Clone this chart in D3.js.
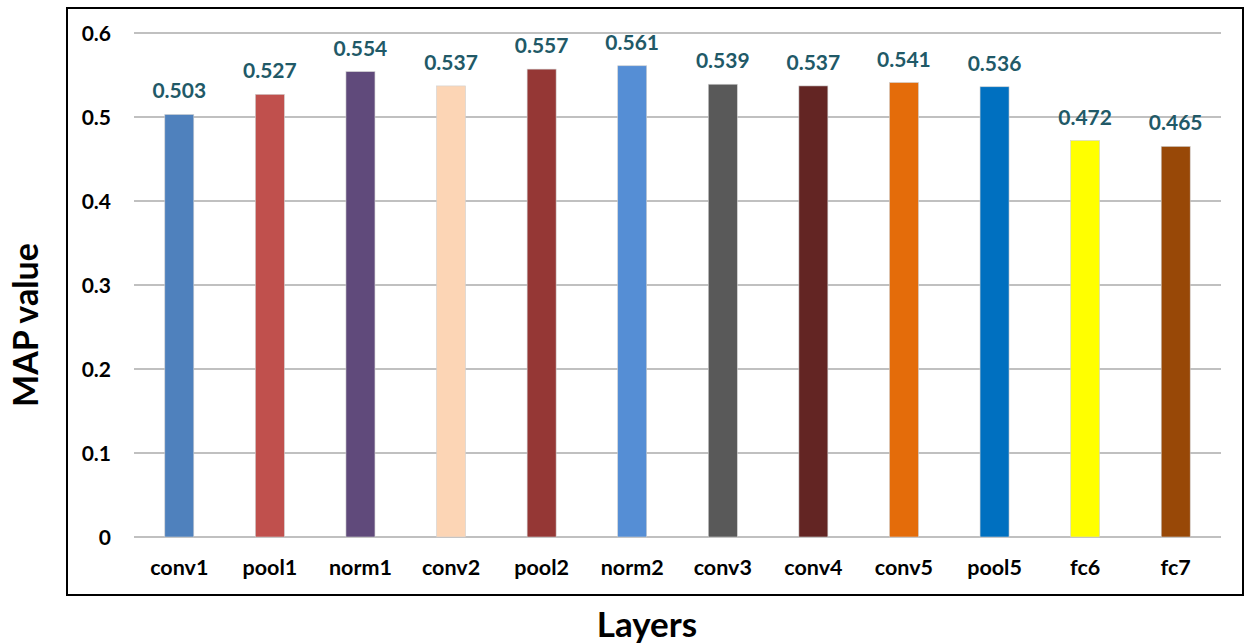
<!DOCTYPE html>
<html lang="en">
<head>
    <script src='https://d3js.org/d3.v7.min.js'></script>
</head>
<style>
body { margin: 0; background: #fff; }
text { font-family: Lato, "Open Sans", sans-serif; font-weight: bold; }
</style>
<body>
<script>
// chart data
const layers = ["conv1","pool1","norm1","conv2","pool2","norm2","conv3","conv4","conv5","pool5","fc6","fc7"];
const mapValues = [0.503,0.527,0.554,0.537,0.557,0.561,0.539,0.537,0.541,0.536,0.472,0.465];
const barColors = ["#4f81bd","#c0504d","#604a7b","#fcd5b5","#953735","#558ed5","#595959","#632523","#e46c0a","#0070c0","#ffff00","#984807"];
const yTicks = [0,0.1,0.2,0.3,0.4,0.5,0.6];

const width = 1251, height = 643;
const plotLeft = 134, plotRight = 1221, plotTop = 33, plotBottom = 537;

const svg = d3.select("body").append("svg")
  .attr("width", width)
  .attr("height", height);

// outer frame
svg.append("rect")
  .attr("x", 67).attr("y", 8)
  .attr("width", 1176).attr("height", 587)
  .attr("fill", "none")
  .attr("stroke", "#000")
  .attr("stroke-width", 2);

const x = d3.scaleBand()
  .domain(layers)
  .range([plotLeft, plotRight])
  .paddingInner(0.68)
  .paddingOuter(0.34);

const y = d3.scaleLinear()
  .domain([0, 0.6])
  .range([plotBottom, plotTop]);

// gridlines
svg.append("g")
  .selectAll("line")
  .data(yTicks)
  .enter()
  .append("line")
  .attr("x1", plotLeft).attr("x2", plotRight)
  .attr("y1", d => y(d)).attr("y2", d => y(d))
  .attr("stroke", "#c0c0c0")
  .attr("stroke-width", 2);

// y axis labels
const yAxis = svg.append("g")
  .attr("transform", "translate(111,0)")
  .call(d3.axisLeft(y).tickValues(yTicks).tickSize(0).tickPadding(0)
    .tickFormat(d => d === 0 ? "0" : d3.format(".1f")(d)));
yAxis.select(".domain").remove();
yAxis.selectAll("text")
  .attr("font-size", 21)
  .attr("font-family", "Lato, sans-serif")
  .attr("font-weight", "bold")
  .attr("fill", "#000")
  .attr("dy", "0.35em");

// bars
svg.selectAll(".bar")
  .data(layers)
  .enter()
  .append("rect")
  .attr("class", "bar")
  .attr("x", d => x(d))
  .attr("y", (d, i) => y(mapValues[i]))
  .attr("width", x.bandwidth())
  .attr("height", (d, i) => plotBottom - y(mapValues[i]))
  .attr("fill", (d, i) => barColors[i])
  .attr("stroke", "#d0d0d0")
  .attr("stroke-width", 0.6);

// value labels
svg.selectAll(".val")
  .data(layers)
  .enter()
  .append("text")
  .attr("class", "val")
  .attr("x", d => x(d) + x.bandwidth() / 2)
  .attr("y", (d, i) => y(mapValues[i]) - 16)
  .attr("text-anchor", "middle")
  .attr("font-size", 21)
  .attr("fill", "#215967")
  .text((d, i) => d3.format(".3f")(mapValues[i]));

// x axis labels
const xAxis = svg.append("g")
  .attr("transform", `translate(0,${plotBottom + 23})`)
  .call(d3.axisBottom(x).tickSize(0).tickPadding(0));
xAxis.select(".domain").remove();
xAxis.selectAll("text")
  .attr("font-size", 21.5)
  .attr("font-family", "Lato, sans-serif")
  .attr("font-weight", "bold")
  .attr("fill", "#000");

// axis titles
svg.append("text")
  .attr("x", 647).attr("y", 637)
  .attr("text-anchor", "middle")
  .attr("font-size", 35)
  .attr("fill", "#000")
  .text("Layers");

svg.append("text")
  .attr("transform", "translate(38,325) rotate(-90)")
  .attr("text-anchor", "middle")
  .attr("font-size", 34)
  .attr("fill", "#000")
  .text("MAP value");
</script>
</body>
</html>
